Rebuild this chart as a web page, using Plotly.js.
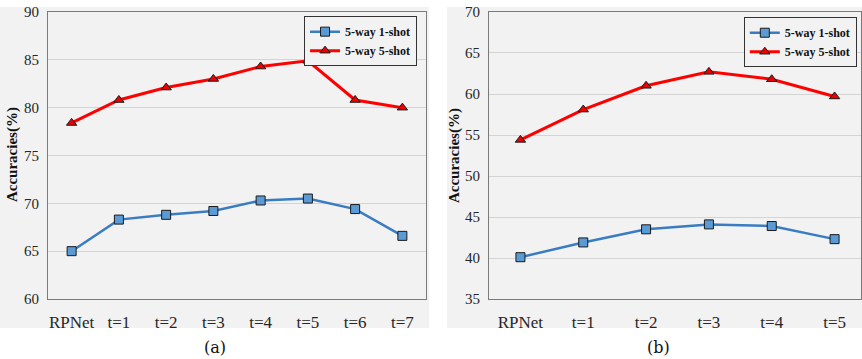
<!DOCTYPE html>
<html><head><meta charset="utf-8">
<script src="https://cdn.plot.ly/plotly-3.0.1.min.js"></script>
<style>html,body{margin:0;padding:0;background:#fff}#c{width:862px;height:359px}</style>
</head><body><div id="c"></div>
<script>
const catsA = ["RPNet","t=1","t=2","t=3","t=4","t=5","t=6","t=7"];
const oneShotA = [65.0, 68.3, 68.8, 69.2, 70.3, 70.5, 69.4, 66.6];
const fiveShotA = [78.4, 80.8, 82.1, 83.0, 84.3, 84.9, 80.8, 80.0];
const catsB = ["RPNet","t=1","t=2","t=3","t=4","t=5"];
const oneShotB = [40.1, 41.9, 43.5, 44.1, 43.9, 42.3];
const fiveShotB = [54.4, 58.1, 61.0, 62.7, 61.8, 59.7];
const seriesNames = ["5-way 1-shot","5-way 5-shot"];

const SERIF = 'Liberation Serif, Times New Roman, serif';
const blue = {line:{color:'#3a7cc2',width:2.5}, marker:{symbol:'square',size:9,color:'#5b9bd5',line:{color:'#1a1a1a',width:1}}};
const red = {line:{color:'#ff0000',width:3}, marker:{symbol:'triangle-up',size:9,color:'#ee0000',line:{color:'#1a1a1a',width:1}}};

function tr(x,y,name,sty,xa,ya,leg){
  return {type:'scatter',mode:'lines+markers',x:x,y:y,name:name,xaxis:xa,yaxis:ya,legend:leg,
    line:sty.line, marker:sty.marker, cliponaxis:false};
}
const data = [
  tr(catsA,oneShotA,seriesNames[0],blue,'x','y','legend'),
  tr(catsA,fiveShotA,seriesNames[1],red,'x','y','legend'),
  tr(catsB,oneShotB,seriesNames[0],blue,'x2','y2','legend2'),
  tr(catsB,fiveShotB,seriesNames[1],red,'x2','y2','legend2')
];
const tickFont = {family:SERIF, size:15, color:'#262626'};
const xbase = {type:'category', showgrid:false, showline:true, mirror:true, linecolor:'#7a7a7a', linewidth:1,
  ticks:'outside', ticklen:8, tickcolor:'rgba(0,0,0,0)', tickfont:{family:SERIF,size:17,color:'#262626'}, fixedrange:true};
const ybase = {showgrid:true, gridcolor:'#d4d4d4', gridwidth:1, showline:true, mirror:true, linecolor:'#7a7a7a', linewidth:1,
  ticks:'outside', ticklen:5, tickcolor:'rgba(0,0,0,0)', tickfont:tickFont, zeroline:false, dtick:5};
const legFont = {family:SERIF, size:12, color:'#111', weight:'bold'};
const layout = {
  width:862, height:359, margin:{l:0,r:0,t:0,b:0}, paper_bgcolor:'#ffffff', plot_bgcolor:'#f2f2f2',
  xaxis:{...xbase, domain:[0.0557,0.4942], range:[-0.5,7.5], anchor:'y'},
  yaxis:{...ybase, domain:[0.1671,0.9666], range:[60,90], anchor:'x'},
  xaxis2:{...xbase, domain:[0.5673,0.9988], range:[-0.5,5.42], anchor:'y2'},
  yaxis2:{...ybase, domain:[0.1671,0.9666], range:[35,70], anchor:'x2'},
  legend:{x:0.4838,y:0.955,xanchor:'right',yanchor:'top',bgcolor:'#f2f2f2',bordercolor:'#333',borderwidth:1,
    font:legFont, tracegroupgap:0, itemwidth:30},
  legend2:{x:0.994,y:0.952,xanchor:'right',yanchor:'top',bgcolor:'#f2f2f2',bordercolor:'#333',borderwidth:1,
    font:legFont, tracegroupgap:0, itemwidth:30},
  showlegend:true,
  shapes:[
    {type:'rect',xref:'paper',yref:'paper',x0:0,x1:0.4977,y0:0.0864,y1:0.9805,fillcolor:'#f2f2f2',line:{width:0},layer:'below'},
    {type:'rect',xref:'paper',yref:'paper',x0:0.5186,x1:1,y0:0.0864,y1:0.9805,fillcolor:'#f2f2f2',line:{width:0},layer:'below'}
  ],
  annotations:[
    {text:'Accuracies(%)',xref:'paper',yref:'paper',x:12/862,y:0.568,xanchor:'center',yanchor:'middle',textangle:-90,showarrow:false,
      font:{family:SERIF,size:15,color:'#111',weight:'bold'}},
    {text:'Accuracies(%)',xref:'paper',yref:'paper',x:454/862,y:0.568,xanchor:'center',yanchor:'middle',textangle:-90,showarrow:false,
      font:{family:SERIF,size:15,color:'#111',weight:'bold'}},
    {text:'(a)',xref:'paper',yref:'paper',x:215/862,y:(359-347)/359,xanchor:'center',yanchor:'middle',showarrow:false,
      font:{family:'DejaVu Serif, serif',size:16,color:'#111'}},
    {text:'(b)',xref:'paper',yref:'paper',x:658/862,y:(359-347)/359,xanchor:'center',yanchor:'middle',showarrow:false,
      font:{family:'DejaVu Serif, serif',size:16,color:'#111'}}
  ]
};
Plotly.newPlot('c', data, layout, {staticPlot:true, displayModeBar:false});
</script></body></html>
